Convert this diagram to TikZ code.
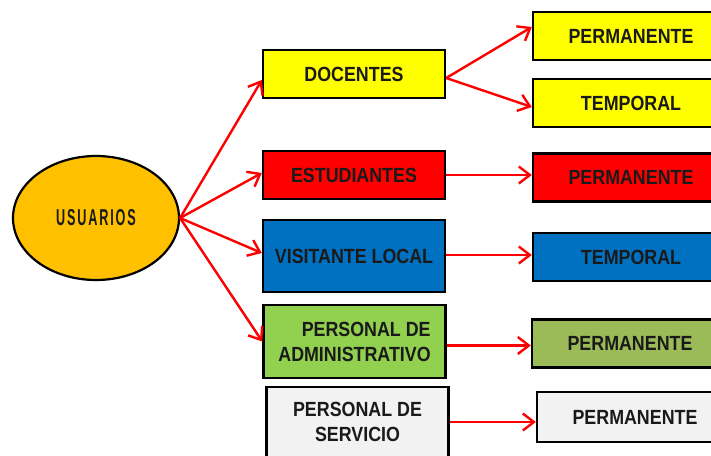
\documentclass[tikz,border=0pt]{standalone}
\usepackage{fontspec}
\setmainfont{Liberation Sans}
\newfontfamily\boxfont{Liberation Sans}[FakeStretch=0.87]
\newfontfamily\ovalfont{Liberation Sans}[FakeStretch=0.55,LetterSpace=8]
\usetikzlibrary{arrows.meta,shapes.geometric}

\definecolor{corg}{HTML}{FFC000}
\definecolor{cyel}{HTML}{FFFF00}
\definecolor{cred}{HTML}{FF0000}
\definecolor{cblu}{HTML}{0070C0}
\definecolor{cgrn}{HTML}{92D050}
\definecolor{colv}{HTML}{9BBB59}
\definecolor{cgry}{HTML}{F2F2F2}
\definecolor{ctxt}{HTML}{1A1A1A}

\begin{document}
\begin{tikzpicture}[x=1pt, y=-1pt,
    every node/.style={font=\boxfont\bfseries\fontsize{20.5}{25}\selectfont, text=ctxt},
    bx/.style={rectangle, draw, line width=2.4pt, minimum width=182pt,
               minimum height=48pt, inner sep=0pt, align=center},
    rb/.style={bx, minimum width=196pt},
    ov/.style={ellipse, draw, line width=2.2pt, fill=corg, minimum width=166pt,
               minimum height=124pt, inner sep=0pt,
               font=\ovalfont\bfseries\fontsize{23}{25}\selectfont},
    e/.style={-{Straight Barb[length=11pt, width=17pt, line width=2.4pt]},
              red, line width=2.4pt},
  ]
  \useasboundingbox (0,0) rectangle (711,455);
  \clip (0,0) rectangle (711,455);
  % root
  \node[ov] (usr) at (96, 218) {USUARIOS};
  % user groups
  \node[bx, fill=cyel] (doc) at (354, 74) {DOCENTES};
  \node[bx, fill=cred] (est) at (354, 175) {ESTUDIANTES};
  \node[bx, fill=cblu, minimum height=72pt] (vis) at (354, 256) {VISITANTE LOCAL};
  \node[bx, fill=cgrn, minimum height=73pt, align=right] (adm) at (354.5, 341.5) {PERSONAL DE\\ADMINISTRATIVO};
  \node[bx, fill=cgry, minimum height=70pt] (srv) at (357.5, 422) {PERSONAL DE\\SERVICIO};
  % kinds
  \node[rb, fill=cyel] (pdoc) at (631, 36) {PERMANENTE};
  \node[rb, fill=cyel] (tdoc) at (631, 103) {TEMPORAL};
  \node[rb, fill=cred] (pest) at (631, 177.5) {PERMANENTE};
  \node[rb, fill=cblu] (tvis) at (631, 257) {TEMPORAL};
  \node[rb, fill=colv] (padm) at (630, 343.5) {PERMANENTE};
  \node[rb, fill=cgry, minimum height=50pt] (psrv) at (635, 417) {PERMANENTE};
  % connectors
  \draw[e] (usr.east) -- ([yshift=-6pt]doc.west);
  \draw[e] (usr.east) -- ([yshift=2pt]est.west);
  \draw[e] (usr.east) -- ([yshift=3pt]vis.west);
  \draw[e] (usr.east) -- (adm.west);
  \draw[e] ([yshift=-4pt]doc.east) -- ([yshift=9pt]pdoc.west);
  \draw[e] ([yshift=-4pt]doc.east) -- ([yshift=-4pt]tdoc.west);
  \draw[e] (est.east) -- (est.east -| pest.west);
  \draw[e] ([yshift=1pt]vis.east) -- ([yshift=1pt]vis.east -| tvis.west);
  \draw[e] ([yshift=-4pt]adm.east) -- ([yshift=-4pt]adm.east -| padm.west);
  \draw[e] (srv.east) -- (srv.east -| psrv.west);
\end{tikzpicture}
\end{document}
